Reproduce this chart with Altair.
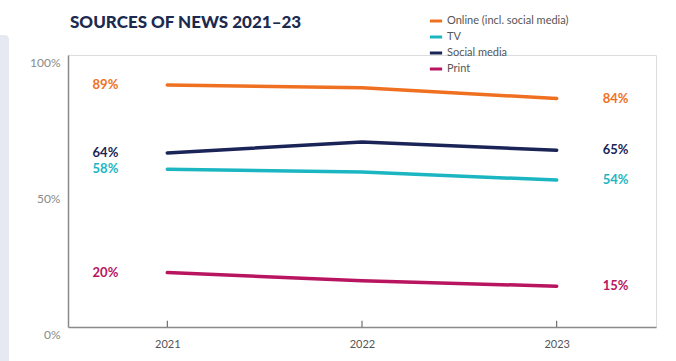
import altair as alt
import pandas as pd

years = [2021, 2022, 2023]
series = ["Online (incl. social media)", "TV", "Social media", "Print"]
online = [89, 88, 84]
tv = [58, 57, 54]
social = [64, 68, 65]
printed = [20, 17, 15]
colors = ["#F07022", "#1BB6C2", "#1A2456", "#B8145F"]
y_ticks = [0, 50, 100]

values = {series[0]: online, series[1]: tv, series[2]: social, series[3]: printed}
rows = []
for s in series:
    for y, v in zip(years, values[s]):
        rows.append({"year": y, "series": s, "value": v, "label": f"{v}%"})
df = pd.DataFrame(rows)

FONT = "Lato"
xscale = alt.Scale(domain=[2020.49, 2023.51], nice=False, zero=False)
yscale = alt.Scale(domain=[0, 100], nice=False)
cscale = alt.Scale(domain=series, range=colors)

base = alt.Chart(df)

lines = base.mark_line(strokeWidth=3.5, strokeCap="round").encode(
    x=alt.X("year:Q", scale=xscale,
            axis=alt.Axis(values=years, format="d", title=None, grid=False,
                          ticks=False, domainColor="#8a8a8a", domainWidth=1.5,
                          labelColor="#555555", labelFont=FONT, labelFontSize=11,
                          labelPadding=11)),
    y=alt.Y("value:Q", scale=yscale,
            axis=alt.Axis(values=y_ticks, format=".0f", labelExpr="datum.value + '%'",
                          title=None, grid=False, ticks=False, domainColor="#8a8a8a",
                          domainWidth=1.5, labelColor="#8a8a8a", labelFont=FONT,
                          labelFontSize=12, labelPadding=8, labelOffset=7)),
    color=alt.Color("series:N", scale=cscale, sort=series,
                    legend=alt.Legend(title=None, orient="none", legendX=360, legendY=-42,
                                      symbolType="stroke", symbolSize=150,
                                      symbolStrokeWidth=3, labelFont=FONT,
                                      labelFontSize=11, labelColor="#555555",
                                      rowPadding=2, symbolOffset=0, labelOffset=3)),
    detail="series:N",
)

left_labels = alt.Chart(df[df.year == 2021]).mark_text(
    align="right", baseline="middle", dx=-49, fontSize=13, fontWeight="bold", font=FONT
).encode(
    x=alt.X("year:Q", scale=xscale), y=alt.Y("value:Q", scale=yscale),
    text="label:N", color=alt.Color("series:N", scale=cscale, legend=None),
)
right_labels = alt.Chart(df[df.year == 2023]).mark_text(
    align="left", baseline="middle", dx=46, fontSize=13, fontWeight="bold", font=FONT
).encode(
    x=alt.X("year:Q", scale=xscale), y=alt.Y("value:Q", scale=yscale),
    text="label:N", color=alt.Color("series:N", scale=cscale, legend=None),
)

tick_df = pd.DataFrame({"year": years, "y0": [0] * 3, "y1": [2.3] * 3})
ticks = alt.Chart(tick_df).mark_rule(color="#555555", strokeWidth=1).encode(
    x=alt.X("year:Q", scale=xscale), y=alt.Y("y0:Q", scale=yscale), y2="y1:Q"
)

strip = alt.Chart(pd.DataFrame({"a": [0]})).mark_rect(
    color="#E6E9F1", cornerRadiusTopRight=4
).encode(x=alt.value(-68), x2=alt.value(-59), y=alt.value(-20), y2=alt.value(320))

chart = alt.layer(strip, ticks, lines, left_labels, right_labels).properties(
    width=588, height=272,
    title=alt.TitleParams("SOURCES OF NEWS 2021–23", anchor="start", frame="group",
                          fontSize=17, font=FONT, fontWeight=900, color="#1B2A4E",
                          offset=22, dx=2, dy=41),
    autosize=alt.AutoSizeParams(type="none"),
    padding={"left": 68, "top": 55, "right": 20, "bottom": 34},
).configure_view(stroke=None).configure(background="white")

chart.save("out.html", embed_options={"renderer": "svg", "actions": False})
